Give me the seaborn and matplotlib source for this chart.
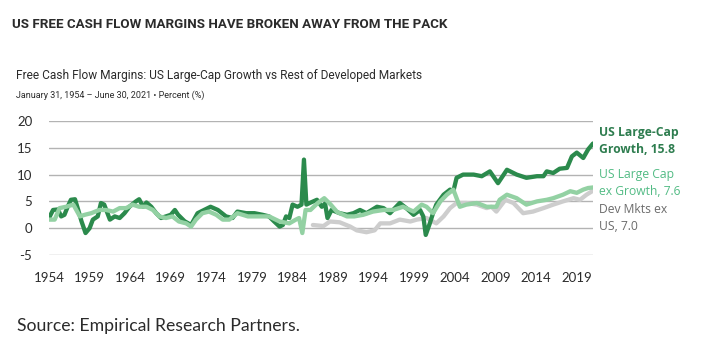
import matplotlib
matplotlib.use("Agg")
import matplotlib.pyplot as plt
import seaborn as sns
import pandas as pd

# ---- data ----
lcg_years = [1954.0, 1954.5, 1955.1, 1955.5, 1955.9, 1956.3, 1956.7, 1957.2, 1957.6, 1958.0,
             1958.5, 1959.0, 1959.4, 1960.0, 1960.4, 1960.8, 1961.5, 1962.1, 1962.7, 1963.3,
             1963.9, 1964.7, 1965.1, 1965.6, 1966.0, 1966.6, 1967.2, 1967.8, 1968.4, 1969.0,
             1969.5, 1969.9, 1970.7, 1971.5, 1972.3, 1973.1, 1973.9, 1974.8, 1975.8, 1976.6,
             1977.2, 1978.3, 1979.3, 1980.3, 1981.1, 1981.7, 1982.4, 1982.8, 1983.2, 1983.6,
             1984.0, 1984.6, 1985.1, 1985.4, 1985.7, 1986.1, 1987.0, 1987.6, 1988.0, 1988.3,
             1988.8, 1989.8, 1990.7, 1991.5, 1992.3, 1993.1, 1994.4, 1995.2, 1996.0, 1997.2,
             1998.0, 1998.9, 1999.7, 2000.1, 2000.4, 2000.9, 2001.3, 2001.7, 2002.6, 2003.4,
             2003.8, 2004.2, 2005.0, 2006.3, 2007.3, 2008.3, 2009.3, 2010.4, 2011.6, 2012.8,
             2014.1, 2014.9, 2015.3, 2016.1, 2016.9, 2017.8, 2018.4, 2019.0, 2019.8, 2020.4,
             2021.0]
lcg_vals = [1.9, 3.4, 3.5, 2.2, 2.5, 4.0, 5.3, 5.4, 3.4, 1.3,
            -0.9, 0.0, 1.6, 2.2, 4.7, 4.4, 1.6, 2.2, 1.9, 2.8,
            4.0, 5.0, 5.4, 4.0, 4.8, 4.0, 2.8, 1.9, 2.2, 2.5,
            3.4, 2.5, 1.3, 0.6, 2.8, 3.4, 4.0, 3.4, 2.2, 1.9,
            3.1, 2.8, 2.8, 2.5, 2.2, 1.3, 0.3, 0.6, 2.2, 1.9,
            4.4, 4.0, 4.4, 12.8, 4.4, 4.7, 5.3, 4.0, 4.6, 1.9,
            3.4, 2.8, 2.5, 2.8, 3.4, 2.8, 4.0, 3.75, 2.8, 4.7,
            3.75, 2.5, 3.4, 2.2, -1.25, 0.9, 2.8, 4.4, 6.25, 7.2,
            6.9, 9.4, 10.0, 10.0, 9.7, 10.6, 8.4, 10.9, 10.0, 9.4,
            9.7, 9.7, 10.6, 10.3, 11.1, 11.25, 13.4, 14.1, 13.1, 14.7,
            15.8]

exg_years = [1954.0, 1954.7, 1955.3, 1956.1, 1957.0, 1957.8, 1958.4, 1959.2, 1960.2, 1961.0,
             1961.9, 1962.7, 1963.5, 1964.3, 1965.1, 1966.0, 1966.8, 1967.6, 1968.4, 1969.2,
             1970.0, 1970.9, 1971.5, 1972.1, 1972.9, 1973.7, 1974.6, 1975.4, 1976.2, 1977.2,
             1978.5, 1979.9, 1981.1, 1982.4, 1983.6, 1984.4, 1984.8, 1985.2, 1985.6, 1986.2,
             1987.1, 1987.9, 1988.7, 1989.5, 1990.7, 1991.6, 1992.7, 1993.9, 1995.2, 1996.4,
             1997.6, 1998.9, 1999.9, 2000.5, 2001.3, 2002.2, 2003.0, 2003.8, 2004.2, 2004.6,
             2005.4, 2006.7, 2007.9, 2009.1, 2009.5, 2010.4, 2011.6, 2012.8, 2014.1, 2015.3,
             2016.1, 2017.3, 2018.2, 2019.0, 2019.8, 2020.4, 2021.0]
exg_vals = [1.6, 1.6, 3.75, 4.0, 4.4, 2.2, 2.5, 2.8, 3.4, 3.4,
            3.1, 3.75, 3.75, 4.4, 4.0, 4.0, 3.4, 2.2, 1.9, 2.2,
            1.25, 0.9, 0.3, 1.6, 2.8, 3.1, 2.5, 1.6, 1.6, 2.8,
            2.2, 2.2, 2.2, 1.25, 0.9, 1.6, 1.9, -0.9, 3.4, 3.4,
            4.7, 5.6, 4.4, 3.0, 2.2, 2.2, 2.5, 3.1, 3.4, 3.4,
            4.0, 3.1, 4.4, 4.0, 2.8, 5.0, 6.25, 7.2, 5.6, 4.0,
            4.4, 4.7, 4.0, 4.0, 5.3, 6.25, 5.6, 4.4, 5.0, 5.3,
            5.6, 6.25, 6.9, 6.6, 7.2, 7.5, 7.6]

dev_years = [1986.5, 1987.8, 1988.6, 1989.8, 1991.1, 1991.9, 1993.1, 1994.1, 1994.8, 1996.0,
             1997.2, 1998.5, 1999.3, 2000.5, 2001.7, 2002.6, 2003.4, 2004.2, 2005.4, 2006.7,
             2007.9, 2008.5, 2009.1, 2010.2, 2011.2, 2012.4, 2013.6, 2014.9, 2016.1, 2017.3,
             2018.6, 2019.4, 2020.2, 2021.0]
dev_vals = [0.6, 0.4, 1.25, 1.1, 0.3, -0.4, -0.75, -0.4, 0.9, 0.9,
            1.6, 1.25, 1.6, 1.9, 0.9, 2.2, 3.75, 4.7, 4.7, 4.4,
            3.75, 4.0, 3.1, 5.3, 4.7, 2.8, 3.1, 3.75, 4.4, 5.0,
            5.6, 5.3, 6.25, 7.0]

y_ticks = [-5, 0, 5, 10, 15, 20]
x_ticks = [1954, 1959, 1964, 1969, 1974, 1979, 1984, 1989, 1994, 1999, 2004, 2009, 2014, 2019]

title = "US FREE CASH FLOW MARGINS HAVE BROKEN AWAY FROM THE PACK"
subtitle = "Free Cash Flow Margins: US Large-Cap Growth vs Rest of Developed Markets"
dateline = "January 31, 1954 \u2013 June 30, 2021 \u2022 Percent (%)"
source = "Source: Empirical Research Partners."
lab_lcg = "US Large-Cap\nGrowth, 15.8"
lab_exg = "US Large Cap\nex Growth, 7.6"
lab_dev = "Dev Mkts ex\nUS, 7.0"

# ---- style ----
C_DARK = "#2b8a4c"
C_LIGHT = "#93d1a3"
C_GRAY = "#cdcdcd"
C_TEXT = "#2b2b2b"

sns.set_style("white")
plt.rcParams["font.family"] = ["Lato", "DejaVu Sans"]

fig = plt.figure(figsize=(7.19, 3.44), dpi=100)
ax = fig.add_axes([49 / 719, 1 - 255 / 344, (593 - 49) / 719, (255 - 121) / 344])

df_dev = pd.DataFrame({"year": dev_years, "value": dev_vals})
df_lcg = pd.DataFrame({"year": lcg_years, "value": lcg_vals})
df_exg = pd.DataFrame({"year": exg_years, "value": exg_vals})

for yv in y_ticks:
    ax.axhline(yv, color="#b3b3b3", lw=1.0, zorder=0)

sns.lineplot(data=df_dev, x="year", y="value", ax=ax, color=C_GRAY, lw=3.1,
             sort=False, estimator=None, zorder=2)
sns.lineplot(data=df_lcg, x="year", y="value", ax=ax, color=C_DARK, lw=3.1,
             sort=False, estimator=None, zorder=3)
sns.lineplot(data=df_exg, x="year", y="value", ax=ax, color=C_LIGHT, lw=3.1,
             sort=False, estimator=None, zorder=4)

ax.set_xlim(1954, 2021.0)
ax.set_ylim(-5, 20)
ax.set_xticks(x_ticks)
ax.set_yticks(y_ticks)
ax.set_xticklabels([str(t) for t in x_ticks], fontsize=9.5, color=C_TEXT)
ax.set_yticklabels([str(t) for t in y_ticks], fontsize=9.5, color=C_TEXT)
ax.tick_params(axis="x", length=0, pad=12)
ax.tick_params(axis="y", length=0, pad=12)
ax.set_xlabel("")
ax.set_ylabel("")
ax.grid(False)
for s in ax.spines.values():
    s.set_visible(False)
ax.patch.set_alpha(0)

# right-side labels
lab_font = ["Open Sans", "DejaVu Sans"]
fig.text(599 / 719, 1 - 141 / 344, lab_lcg, color="#2e7d4f", fontsize=8.7,
         fontweight="bold", va="center", ha="left", linespacing=1.4, family=lab_font)
fig.text(599 / 719, 1 - 183 / 344, lab_exg, color="#52bb84", fontsize=8.7,
         va="center", ha="left", linespacing=1.4, family=lab_font)
fig.text(599 / 719, 1 - 218 / 344, lab_dev, color="#6b6b6b", fontsize=8.7,
         va="center", ha="left", linespacing=1.4, family=lab_font)

# titles
NARROW = ["Roboto", "DejaVu Sans"]
fig.text(12 / 719, 1 - 25 / 344, title, color=C_TEXT, fontsize=9.6,
         fontweight="bold", va="center", ha="left", family=NARROW)
fig.text(16 / 719, 1 - 76 / 344, subtitle, color=C_TEXT, fontsize=8.6,
         va="center", ha="left", family=NARROW)
fig.text(16 / 719, 1 - 95 / 344, dateline, color=C_TEXT, fontsize=6.5,
         va="center", ha="left", family=NARROW)
fig.text(17 / 719, 1 - 326 / 344, source, color=C_TEXT, fontsize=12.7,
         va="center", ha="left")

fig.savefig("out.png", dpi=100)
